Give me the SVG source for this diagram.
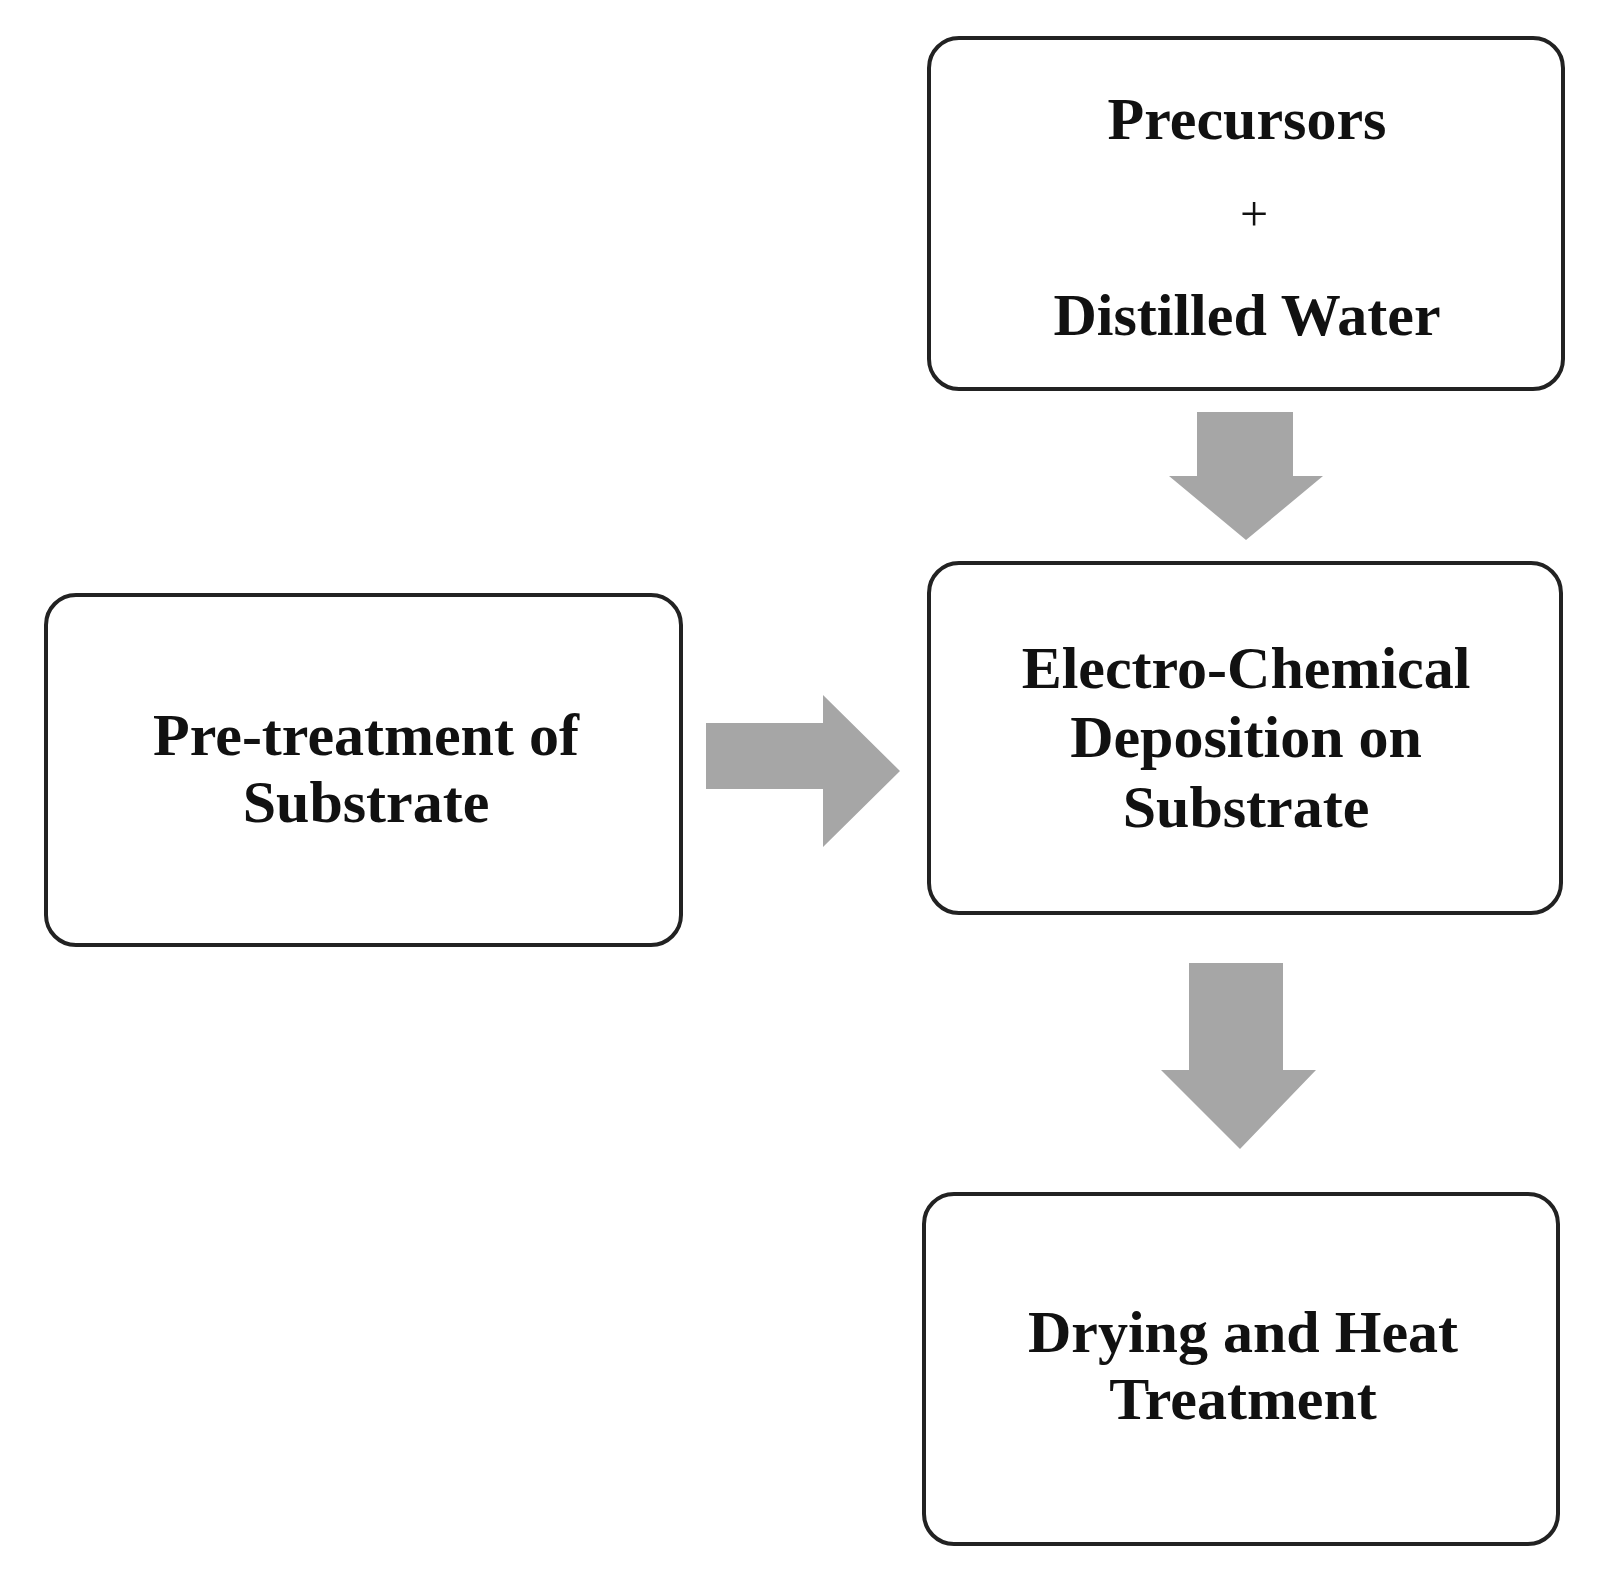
<svg xmlns="http://www.w3.org/2000/svg" width="1610" height="1574" viewBox="0 0 1610 1574">
<style>
.box{fill:#fff;stroke:#222;stroke-width:4}
.t{font-family:"Liberation Serif",serif;font-weight:bold;font-size:60px;fill:#111;text-anchor:middle}
.p{font-family:"Liberation Serif",serif;font-size:50px;fill:#111;text-anchor:middle}
.arr{fill:#a6a6a6}
</style>
<rect width="1610" height="1574" fill="#fff"/>
<g id="precursors"><rect class="box" x="929" y="38" width="634" height="351" rx="30"/>
<text class="t" x="1247" y="139">Precursors</text><text class="p" x="1254" y="231">+</text><text class="t" x="1247" y="335">Distilled Water</text></g>
<g id="pretreatment"><rect class="box" x="46" y="595" width="635" height="350" rx="30"/>
<text class="t" x="366" y="755">Pre-treatment of</text><text class="t" x="366" y="822">Substrate</text></g>
<g id="ecd"><rect class="box" x="929" y="563" width="632" height="350" rx="30"/>
<text class="t" x="1246" y="688">Electro-Chemical</text><text class="t" x="1246" y="757">Deposition on</text><text class="t" x="1246" y="827">Substrate</text></g>
<g id="drying"><rect class="box" x="924" y="1194" width="634" height="350" rx="30"/>
<text class="t" x="1243" y="1352">Drying and Heat</text><text class="t" x="1243" y="1419">Treatment</text></g>
<g id="connectors">
<polygon class="arr" points="1197,412 1293,412 1293,476 1323,476 1246,540 1169,476 1197,476"/>
<polygon class="arr" points="706,723 823,723 823,695 900,771 823,847 823,789 706,789"/>
<polygon class="arr" points="1189,963 1283,963 1283,1070 1316,1070 1240,1149 1161,1070 1189,1070"/>
</g>
</svg>
